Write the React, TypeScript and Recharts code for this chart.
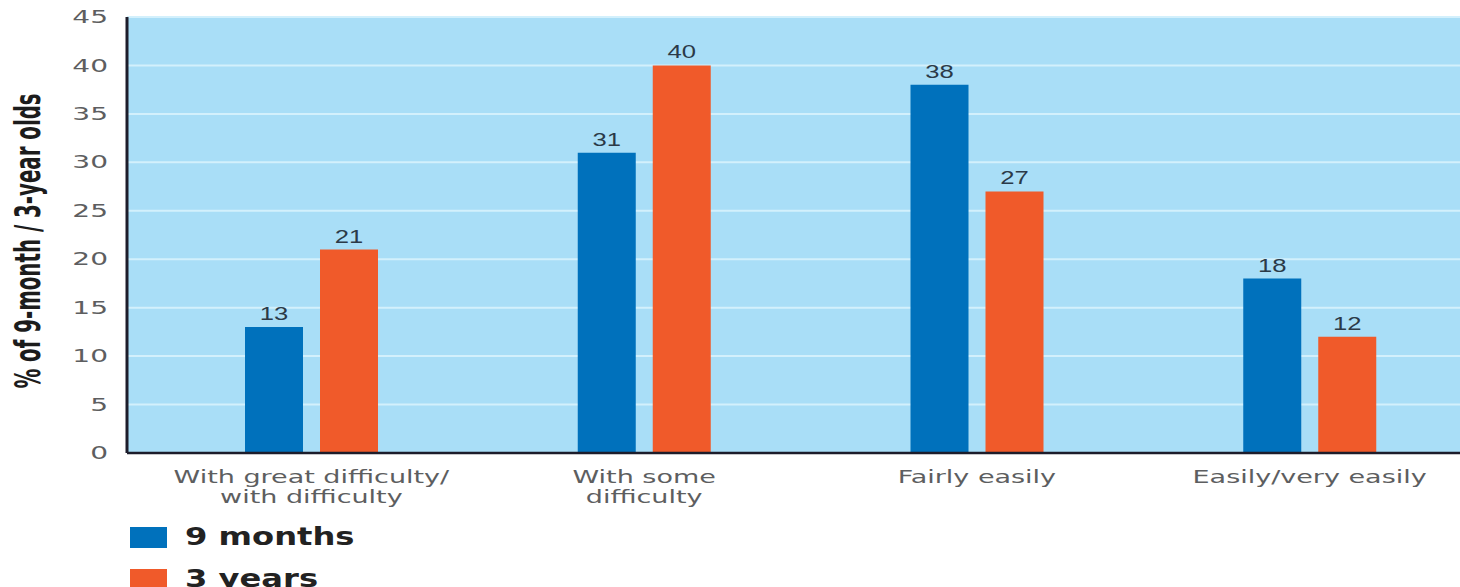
import React from "react"
import { BarChart, Bar, XAxis, YAxis, CartesianGrid, LabelList, Label } from "recharts"

const categories = [
  "With great difficulty/\nwith difficulty",
  "With some\ndifficulty",
  "Fairly easily",
  "Easily/very easily",
]
const nineMonths = [13, 31, 38, 18]
const threeYears = [21, 40, 27, 12]
const yTicks = [0, 5, 10, 15, 20, 25, 30, 35, 40, 45]

const series = [
  { key: "nineMonths", name: "9 months", color: "#0071BC" },
  { key: "threeYears", name: "3 years", color: "#F05A2A" },
]

const data = categories.map((category, i) => ({
  category,
  nineMonths: nineMonths[i],
  threeYears: threeYears[i],
}))

// text in this figure is set wide, so labels get a horizontal stretch
const tickFont = "'DejaVu Sans', sans-serif"
const tickColor = "#5d5e60"

const YTick = ({ x, y, payload }: any) => (
  <text
    transform={`translate(${x},${y}) scale(1.65,1)`}
    textAnchor="end"
    dy="0.36em"
    fontFamily={tickFont}
    fontSize={17}
    fill={tickColor}
  >
    {payload.value}
  </text>
)

const XTick = ({ x, y, payload }: any) => {
  const lines = String(payload.value).split("\n")
  return (
    <text
      transform={`translate(${x},${y}) scale(1.5,1)`}
      textAnchor="middle"
      fontFamily={tickFont}
      fontSize={18}
      fill={tickColor}
    >
      {lines.map((line, i) => (
        <tspan key={i} x={0} y={30 + i * 20}>
          {line}
        </tspan>
      ))}
    </text>
  )
}

const ValueLabel = ({ x, y, width, value }: any) => (
  <text
    transform={`translate(${x + width / 2},${y - 7}) scale(1.35,1)`}
    textAnchor="middle"
    fontFamily="'Liberation Sans', Arial, sans-serif"
    fontSize={19}
    fill="#2b3a48"
  >
    {value}
  </text>
)

const AxisTitle = () => (
  <text
    transform="translate(40,241) rotate(-90) scale(1,1.6)"
    textAnchor="middle"
    fontFamily="'Liberation Sans Narrow', 'DejaVu Sans Condensed', sans-serif"
    fontWeight="bold"
    fontSize={22}
    fill="#1c1c1c"
  >
    % of 9-month / 3-year olds
  </text>
)

export default function App() {
  return (
    <div style={{ position: "absolute", left: 0, top: 0, width: 1460, height: 587, background: "#fff", overflow: "hidden" }}>
      <BarChart
        width={1460}
        height={587}
        data={data}
        margin={{ top: 17, right: 0, left: 0, bottom: 74 }}
        barSize={58}
        barGap={17}
      >
        <CartesianGrid vertical={false} fill="#A9DEF7" fillOpacity={1} stroke="#D3F0FC" strokeWidth={2} />
        <XAxis
          dataKey="category"
          height={60}
          padding={{ left: 18, right: -16 }}
          tickLine={false}
          tickSize={0}
          tickMargin={0}
          axisLine={{ stroke: "#1d1d2b", strokeWidth: 2.5 }}
          tick={<XTick />}
          interval={0}
        />
        <YAxis
          width={127}
          domain={[0, 45]}
          ticks={yTicks}
          tickLine={false}
          tickSize={0}
          tickMargin={19}
          axisLine={{ stroke: "#1d1d2b", strokeWidth: 3 }}
          tick={<YTick />}
        >
          <Label content={<AxisTitle />} />
        </YAxis>
        {series.map((s) => (
          <Bar key={s.key} dataKey={s.key} name={s.name} fill={s.color} isAnimationActive={false}>
            <LabelList dataKey={s.key} content={<ValueLabel />} />
          </Bar>
        ))}
      </BarChart>
      <div style={{ position: "absolute", left: 130, top: 516 }}>
        {series.map((s) => (
          <div key={s.key} style={{ display: "flex", alignItems: "center", height: 42 }}>
            <div style={{ width: 37, height: 21, background: s.color }} />
            <div
              style={{
                marginLeft: 18,
                fontFamily: "'DejaVu Sans', sans-serif",
                fontWeight: "bold",
                fontSize: 24,
                lineHeight: "24px",
                color: "#222",
                transform: "scale(1.34,1)",
                transformOrigin: "left center",
                whiteSpace: "nowrap",
              }}
            >
              {s.name}
            </div>
          </div>
        ))}
      </div>
    </div>
  )
}
